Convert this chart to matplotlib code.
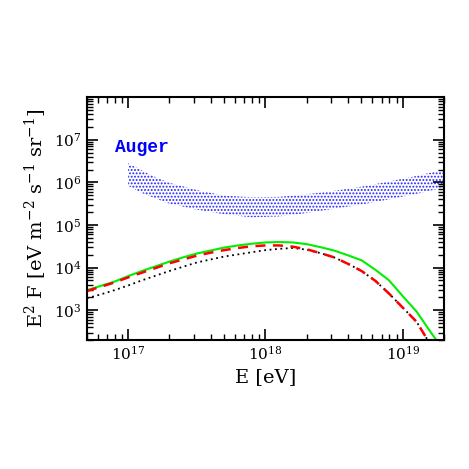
import numpy as np
import matplotlib
matplotlib.use("Agg")
import matplotlib.pyplot as plt
from matplotlib.ticker import LogLocator, NullFormatter, FixedLocator

# log10(E/eV) grid for model curves
logE = [16.7, 16.8, 16.9, 17.0, 17.1, 17.2, 17.3, 17.4, 17.5, 17.6, 17.7, 17.8, 17.9,
        18.0, 18.1, 18.2, 18.3, 18.4, 18.5, 18.6, 18.7, 18.8, 18.9, 19.0, 19.1, 19.2, 19.3]
# log10(E^2 F) values
green = [3.47, 3.57, 3.67, 3.80, 3.92, 4.03, 4.14, 4.24, 4.33, 4.40, 4.47, 4.52, 4.56,
         4.59, 4.60, 4.59, 4.55, 4.48, 4.40, 4.29, 4.17, 3.95, 3.70, 3.33, 2.97, 2.50, 2.05]
red = [3.45, 3.55, 3.65, 3.77, 3.88, 3.99, 4.10, 4.19, 4.28, 4.35, 4.41, 4.46, 4.50,
       4.52, 4.52, 4.49, 4.43, 4.34, 4.24, 4.09, 3.92, 3.69, 3.39, 3.06, 2.73, 2.20, 1.70]
black = [3.28, 3.37, 3.47, 3.58, 3.70, 3.81, 3.92, 4.02, 4.12, 4.19, 4.26, 4.31, 4.36,
         4.41, 4.44, 4.46, 4.42, 4.34, 4.24, 4.09, 3.92, 3.69, 3.39, 3.06, 2.73, 2.20, 1.70]

# Auger band
band_logE = [17.0, 17.1, 17.2, 17.3, 17.5, 17.7, 17.9, 18.1, 18.3, 18.5, 18.7, 18.9, 19.1, 19.3]
band_hi = [6.45, 6.28, 6.12, 5.99, 5.82, 5.69, 5.65, 5.66, 5.72, 5.80, 5.90, 6.02, 6.15, 6.30]
band_lo = [5.92, 5.75, 5.62, 5.50, 5.36, 5.25, 5.18, 5.20, 5.28, 5.38, 5.48, 5.60, 5.73, 5.88]

plt.rcParams['font.family'] = ['DejaVu Serif']
plt.rcParams['mathtext.fontset'] = 'dejavuserif'
plt.rcParams['hatch.linewidth'] = 0.9

fig = plt.figure(figsize=(4.69, 4.69), dpi=100)
ax = fig.add_axes([0.185, 0.275, 0.762, 0.518])

E = 10 ** np.array(logE)
bE = 10 ** np.array(band_logE)
ax.fill_between(bE, 10 ** np.array(band_lo), 10 ** np.array(band_hi),
                facecolor='none', edgecolor='#2222ff', hatch='.....', linewidth=0)

ax.plot(E, 10 ** np.array(green), color='#00ee00', lw=1.5, ls='-')
ax.plot(E, 10 ** np.array(black), color='black', lw=1.3, ls=(0, (1, 2)))
ax.plot(E, 10 ** np.array(red), color='red', lw=1.8, ls=(0, (4, 3)))

ax.set_xscale('log')
ax.set_yscale('log')
ax.set_xlim(5e16, 2e19)
ax.set_ylim(2e2, 1e8)

ax.xaxis.set_major_locator(FixedLocator([1e17, 1e18, 1e19]))
ax.yaxis.set_major_locator(FixedLocator([1e3, 1e4, 1e5, 1e6, 1e7]))
ax.xaxis.set_minor_locator(LogLocator(base=10, subs=np.arange(2, 10), numticks=20))
ax.yaxis.set_minor_locator(LogLocator(base=10, subs=np.arange(2, 10), numticks=20))
ax.xaxis.set_minor_formatter(NullFormatter())
ax.yaxis.set_minor_formatter(NullFormatter())
ax.tick_params(which='both', direction='in', top=True, right=True, labelsize=11)
ax.tick_params(which='major', length=8, width=1.2)
ax.tick_params(which='minor', length=4, width=1.0)
for s in ax.spines.values():
    s.set_linewidth(1.5)

ax.set_xlabel('E [eV]', fontsize=14)
ax.set_ylabel(r'E$^2$ F [eV m$^{-2}$ s$^{-1}$ sr$^{-1}$]', fontsize=14)

ax.text(8.0e16, 10 ** 6.82, 'Auger', color='blue', fontsize=13, fontweight='bold',
        family='Liberation Mono', va='center', ha='left')

fig.savefig('out.png', dpi=100)
